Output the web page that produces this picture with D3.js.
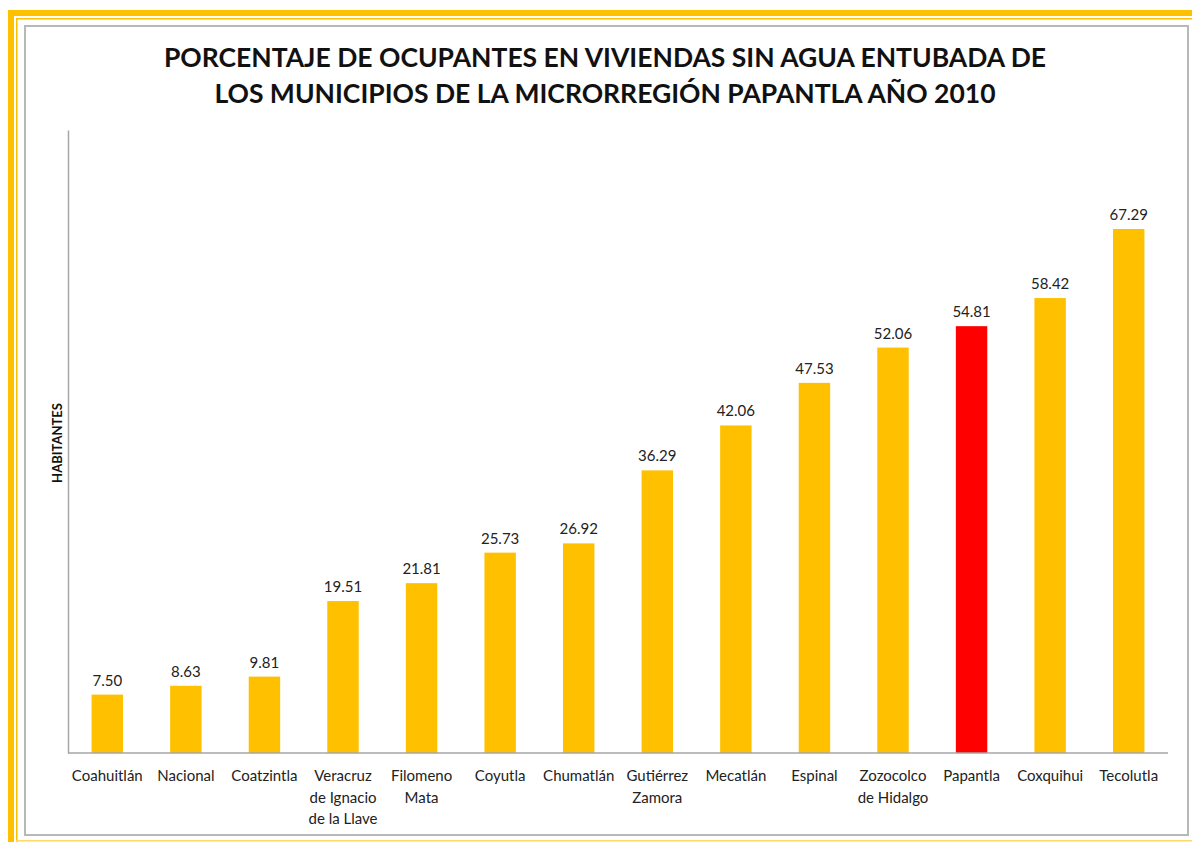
<!DOCTYPE html>
<html>
<head>
<meta charset="utf-8">
<script src="https://cdn.jsdelivr.net/npm/d3@7"></script>
<style>
  body { margin: 0; background: #fff; }
  svg { display: block; }
</style>
</head>
<body>
<script>
// datos
const municipios = ["Coahuitlán", "Nacional", "Coatzintla", "Veracruz\nde Ignacio\nde la Llave",
  "Filomeno\nMata", "Coyutla", "Chumatlán", "Gutiérrez\nZamora", "Mecatlán", "Espinal",
  "Zozocolco\nde Hidalgo", "Papantla", "Coxquihui", "Tecolutla"];
const porcentajes = [7.50, 8.63, 9.81, 19.51, 21.81, 25.73, 26.92, 36.29, 42.06, 47.53, 52.06, 54.81, 58.42, 67.29];
const resaltado = "Papantla";
const titulo = ["PORCENTAJE DE OCUPANTES EN VIVIENDAS SIN AGUA ENTUBADA DE",
  "LOS MUNICIPIOS DE LA MICRORREGIÓN PAPANTLA AÑO 2010"];

const W = 1192, H = 842;
const naranja = "#FFC000";
const fuente = "Lato, 'Open Sans', sans-serif";

const svg = d3.select("body").append("svg")
  .attr("width", W)
  .attr("height", H);

// marco naranja
svg.append("rect").attr("x", 8).attr("y", 10).attr("width", W - 8).attr("height", 6).style("fill", naranja);
svg.append("rect").attr("x", 8).attr("y", 10).attr("width", 6).attr("height", H - 10).style("fill", naranja);
svg.append("rect").attr("x", 16).attr("y", 18).attr("width", W - 16).attr("height", 1.5).style("fill", naranja);
svg.append("rect").attr("x", 16).attr("y", 18).attr("width", 1.5).attr("height", H - 18).style("fill", naranja);
svg.append("rect").attr("x", 16).attr("y", 840).attr("width", W - 16).attr("height", 1.5).style("fill", "#FFD966");

// caja gris
svg.append("rect")
  .attr("x", 25).attr("y", 26)
  .attr("width", 1163).attr("height", 809)
  .style("fill", "#fff")
  .style("stroke", "#b8b8b8")
  .style("stroke-width", 2);

const margin = { left: 68, right: 24, top: 130, bottom: 89 };
const x = d3.scaleBand()
  .domain(municipios)
  .range([margin.left, 1168])
  .paddingInner(0.6)
  .paddingOuter(0.3);
const y = d3.scaleLinear()
  .domain([0, 80])
  .range([753, 130]);

// titulo
svg.append("text")
  .attr("x", 605).attr("y", 67)
  .style("font-family", fuente)
  .style("font-weight", "bold")
  .style("font-size", "26.5px")
  .style("fill", "#111")
  .attr("text-anchor", "middle")
  .selectAll("tspan")
  .data(titulo)
  .enter()
  .append("tspan")
  .attr("x", 605)
  .attr("dy", (d, i) => i === 0 ? 0 : 36)
  .text(d => d);

// barras
svg.selectAll(".bar")
  .data(porcentajes)
  .enter()
  .append("rect")
  .attr("class", "bar")
  .attr("x", (d, i) => x(municipios[i]))
  .attr("y", d => y(d))
  .attr("width", x.bandwidth())
  .attr("height", d => y(0) - y(d))
  .style("fill", (d, i) => municipios[i] === resaltado ? "#FF0000" : naranja);

// etiquetas de valor
svg.selectAll(".valor")
  .data(porcentajes)
  .enter()
  .append("text")
  .attr("class", "valor")
  .attr("x", (d, i) => x(municipios[i]) + x.bandwidth() / 2)
  .attr("y", d => y(d) - 9)
  .attr("text-anchor", "middle")
  .style("font-family", fuente)
  .style("font-size", "15px")
  .style("fill", "#222")
  .text(d => d.toFixed(2));

// ejes
const ejeX = svg.append("g")
  .attr("transform", `translate(0,${y(0)})`)
  .call(d3.axisBottom(x).tickSize(0).tickPadding(0));
ejeX.select(".domain").style("stroke", "#a6a6a6").style("stroke-width", 1.5)
  .attr("d", `M${margin.left},0H1168`);
ejeX.selectAll(".tick text").remove();
ejeX.selectAll(".tick")
  .append("text")
  .attr("text-anchor", "middle")
  .style("font-family", fuente)
  .style("font-size", "15px")
  .style("fill", "#222")
  .selectAll("tspan")
  .data(d => d.split("\n"))
  .enter()
  .append("tspan")
  .attr("x", 0)
  .attr("y", (d, i) => 28 + i * 21.5)
  .text(d => d);

const ejeY = svg.append("g")
  .attr("transform", `translate(${margin.left},0)`)
  .call(d3.axisLeft(y).tickValues([]).tickSize(0));
ejeY.select(".domain").style("stroke", "#a6a6a6").style("stroke-width", 1.5);

svg.append("text")
  .attr("transform", `translate(62,443) rotate(-90)`)
  .attr("text-anchor", "middle")
  .style("font-family", fuente)
  .style("font-weight", "bold")
  .style("font-size", "13px")
  .style("fill", "#111")
  .text("HABITANTES");
</script>
</body>
</html>
